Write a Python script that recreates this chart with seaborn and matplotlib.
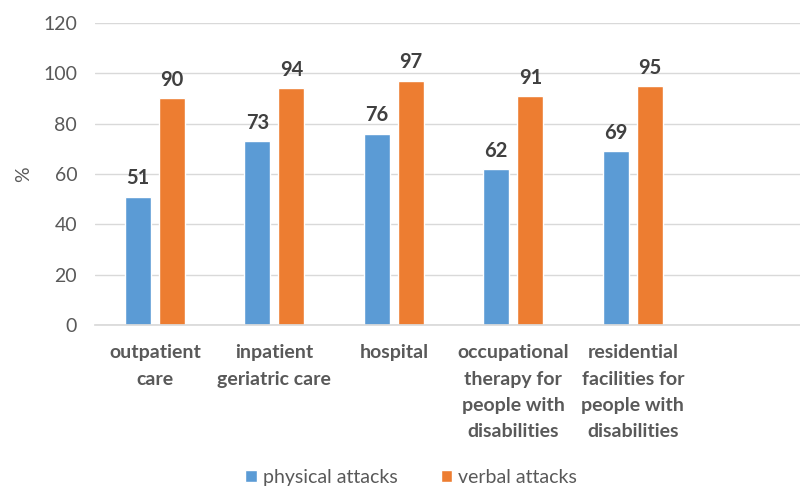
import matplotlib
matplotlib.use("Agg")
import matplotlib.pyplot as plt
import seaborn as sns
import pandas as pd
from matplotlib.patches import Patch

categories = ["outpatient\ncare", "inpatient\ngeriatric care", "hospital",
              "occupational\ntherapy for\npeople with\ndisabilities",
              "residential\nfacilities for\npeople with\ndisabilities"]
physical = [51, 73, 76, 62, 69]
verbal = [90, 94, 97, 91, 95]
series = ["physical attacks", "verbal attacks"]
colors = ["#5B9BD5", "#ED7D31"]

sns.set_theme(style="white")
plt.rcParams["font.family"] = ["Lato", "DejaVu Sans"]

df = pd.DataFrame({
    "category": categories * 2,
    "value": physical + verbal,
    "series": [series[0]] * len(categories) + [series[1]] * len(categories),
})

fig = plt.figure(figsize=(8, 4.88), dpi=100)
ax = fig.add_axes([0.119, 0.334, 0.881, 0.619])
sns.barplot(data=df, x="category", y="value", hue="series", palette=colors,
            width=0.57, gap=0.235, saturation=1, ax=ax, legend=False)

for cont in ax.containers:
    ax.bar_label(cont, padding=6, fontsize=14.5, fontweight="bold", color="#404040")

ax.set_ylim(0, 120)
ax.set_yticks(range(0, 121, 20))
ax.set_xlim(-0.5, 5.4)
ax.grid(axis="y", color="#D9D9D9", linewidth=1)
ax.set_axisbelow(True)
for s in ["top", "right", "left"]:
    ax.spines[s].set_visible(False)
ax.spines["bottom"].set_color("#D9D9D9")
ax.tick_params(axis="y", labelsize=14, colors="#595959", length=0, pad=13)
ax.tick_params(axis="x", labelsize=14, colors="#595959", length=0, pad=14)
for lab in ax.get_xticklabels():
    lab.set_fontweight("bold")
    lab.set_linespacing(1.65)
ax.set_xlabel("")
ax.set_ylabel("%", fontsize=14, color="#595959", labelpad=8)

handles = [Patch(facecolor=c, label=l) for c, l in zip(colors, series)]
fig.legend(handles=handles, loc="center", bbox_to_anchor=(0.514, 0.022),
           ncol=2, frameon=False, fontsize=14, labelcolor="#595959",
           handlelength=0.6, handleheight=0.6, handletextpad=0.3, columnspacing=2.2)

fig.savefig("out.png", dpi=100)
